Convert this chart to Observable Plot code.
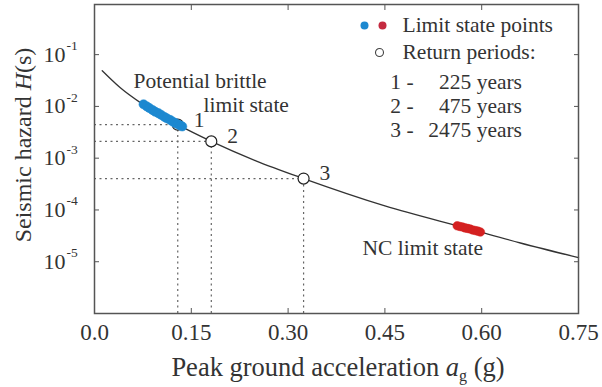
<!DOCTYPE html>
<html>
<head>
<meta charset="utf-8">
<script src="https://cdn.jsdelivr.net/npm/d3@7"></script>
<script src="https://cdn.jsdelivr.net/npm/@observablehq/plot@0.6"></script>
<style>
  html, body { margin: 0; padding: 0; background: #fff; }
  #chart { width: 602px; height: 387px; }
  #chart svg, #chart svg text { font-family: "Liberation Serif", "Times New Roman", serif; }
</style>
</head>
<body>
<div id="chart"></div>
<script>
// ---- data ----
const curveX = [0.012, 0.04, 0.074, 0.129, 0.181, 0.25, 0.324, 0.45, 0.581, 0.66, 0.75];
const curveH = [0.049, 0.023, 0.0112, 0.00444, 0.00211, 0.00089, 0.000404, 0.00012, 4.3e-5, 2.3e-5, 1.2e-5];

const brittleX = [0.076, 0.081, 0.085, 0.09, 0.094, 0.099, 0.103, 0.108, 0.112, 0.117, 0.121, 0.125, 0.129, 0.133, 0.136];
const brittleH = [0.0110, 0.0100, 0.0093, 0.0085, 0.0079, 0.0074, 0.0069, 0.0063, 0.0059, 0.0055, 0.0051, 0.0048, 0.0045, 0.0043, 0.0041];

const ncX = [0.562, 0.566, 0.570, 0.574, 0.578, 0.582, 0.586, 0.590, 0.594, 0.598];
const ncH = [4.95e-5, 4.8e-5, 4.7e-5, 4.5e-5, 4.4e-5, 4.3e-5, 4.1e-5, 4.0e-5, 3.9e-5, 3.75e-5];

const returnLabels = ["1", "2", "3"];
const returnX = [0.129, 0.181, 0.324];
const returnH = [0.00444, 0.00211, 0.000404];

const xTicks = [0, 0.15, 0.30, 0.45, 0.60, 0.75];
const xTickLabels = ["0.0", "0.15", "0.30", "0.45", "0.60", "0.75"];
const yTicks = [1e-1, 1e-2, 1e-3, 1e-4, 1e-5];
const yExponents = ["-1", "-2", "-3", "-4", "-5"];

const legendLines = ["1 -", "2 -", "3 -"];
const legendYears = ["225 years", "475 years", "2475 years"];

// ---- tables ----
const curve = curveX.map((x, i) => ({x, h: curveH[i]}));
const brittle = brittleX.map((x, i) => ({x, h: brittleH[i]}));
const nc = ncX.map((x, i) => ({x, h: ncH[i]}));
const rp = returnX.map((x, i) => ({x, h: returnH[i], label: returnLabels[i]}));
const yt = yTicks.map((v, i) => ({v, e: yExponents[i]}));

const BLUE = "#1c88d0", RED = "#d42020", INK = "#333";
const FONT = "'Liberation Serif', 'Times New Roman', serif";
const TXT = 21.5;
const note = (t, dx, dy) => Plot.text([t], {frameAnchor: "top-left", lineAnchor: "middle", text: d => d, dx, dy, textAnchor: "start", fontSize: TXT, fontFamily: FONT, fill: INK});

const svg = Plot.plot({
  width: 602,
  height: 387,
  marginLeft: 94,
  marginRight: 24,
  marginTop: 4,
  marginBottom: 74,
  style: {fontFamily: FONT, color: INK, background: "#fff"},
  x: {domain: [0, 0.75]},
  y: {type: "log", domain: [1e-6, 0.93]},
  marks: [
    // dashed guides
    Plot.ruleY(rp, {y: "h", x1: 0, x2: "x", stroke: "#666", strokeWidth: 1.2, strokeDasharray: "2,3.5"}),
    Plot.ruleX(rp, {x: "x", y1: 1e-6, y2: "h", stroke: "#666", strokeWidth: 1.2, strokeDasharray: "2,3.5"}),
    // hazard curve
    Plot.line(curve, {x: "x", y: "h", curve: "monotone-x", stroke: INK, strokeWidth: 1.3}),
    // return period circles
    Plot.dot(rp, {x: "x", y: "h", r: 5.5, fill: "white", stroke: "#222", strokeWidth: 1.2}),
    // limit state points
    Plot.dot(brittle, {x: "x", y: "h", r: 4.6, fill: BLUE, stroke: BLUE, strokeWidth: 0.5}),
    Plot.dot(nc, {x: "x", y: "h", r: 4.3, fill: RED, stroke: RED, strokeWidth: 0.5}),
    // return period numbers
    Plot.text(rp, {x: "x", y: "h", text: "label", dx: 16, dy: -5, textAnchor: "start", fontSize: TXT, fontFamily: FONT, fill: INK}),
    // frame and ticks
    Plot.frame({stroke: "#555", strokeWidth: 1.5}),
    Plot.axisX({anchor: "bottom", ticks: xTicks, tickSize: -5, tickPadding: 15, tickFormat: d => xTickLabels[xTicks.indexOf(d)], fontSize: 23, fontFamily: FONT, label: null, stroke: "#555"}),
    Plot.axisX({anchor: "top", ticks: xTicks, tickSize: -5, tickFormat: () => "", label: null, stroke: "#555"}),
    Plot.axisY({anchor: "left", ticks: yTicks, tickSize: -5, tickFormat: () => "", label: null, stroke: "#555"}),
    Plot.axisY({anchor: "right", ticks: yTicks, tickSize: -5, tickFormat: () => "", label: null, stroke: "#555"}),
    // y tick labels with exponents
    Plot.text(yt, {y: "v", frameAnchor: "left", text: () => "10", textAnchor: "end", dx: -29, fontSize: 22, fontFamily: FONT, fill: INK}),
    Plot.text(yt, {y: "v", frameAnchor: "left", text: "e", textAnchor: "start", dx: -28, dy: -9, fontSize: 13.5, fontFamily: FONT, fill: INK}),
    // annotations
    note("Potential brittle", 39, 77),
    note("limit state", 109, 101),
    note("NC limit state", 268, 244),
    // legend
    Plot.dot([0], {frameAnchor: "top-left", dx: 270, dy: 21, r: 4, fill: BLUE}),
    Plot.dot([0], {frameAnchor: "top-left", dx: 288, dy: 21, r: 4, fill: "#c42a40"}),
    Plot.dot([0], {frameAnchor: "top-left", dx: 285, dy: 48, r: 4, fill: "white", stroke: "#444", strokeWidth: 1.1}),
    note("Limit state points", 308, 21),
    note("Return periods:", 308, 48)
  ]
});

document.getElementById("chart").appendChild(svg);

// legend rows and axis titles as SVG text
const s = d3.select(svg);
const rowsY = [82, 106, 130];
const g = s.append("g").attr("font-family", FONT).attr("font-size", TXT).attr("fill", INK);
legendLines.forEach((t, i) => {
  g.append("text").attr("x", 402).attr("y", rowsY[i]).attr("dy", "0.32em").text(t);
  g.append("text").attr("x", 522).attr("y", rowsY[i]).attr("dy", "0.32em").attr("text-anchor", "end").text(legendYears[i]);
});

const yt2 = s.append("text")
  .attr("transform", "translate(23,145) rotate(-90)")
  .attr("text-anchor", "middle").attr("dy", "0.32em")
  .attr("font-family", FONT).attr("font-size", 24).attr("fill", INK);
yt2.append("tspan").text("Seismic hazard ");
yt2.append("tspan").attr("font-style", "italic").text("H");
yt2.append("tspan").text("(s)");

const xt = s.append("text")
  .attr("x", 338).attr("y", 376)
  .attr("text-anchor", "middle")
  .attr("font-family", FONT).attr("font-size", 26.5).attr("fill", INK);
xt.append("tspan").text("Peak ground acceleration ");
xt.append("tspan").attr("font-style", "italic").text("a");
xt.append("tspan").attr("font-size", 16).attr("dy", 5).text("g");
xt.append("tspan").attr("dy", -5).text(" (g)");
</script>
</body>
</html>
